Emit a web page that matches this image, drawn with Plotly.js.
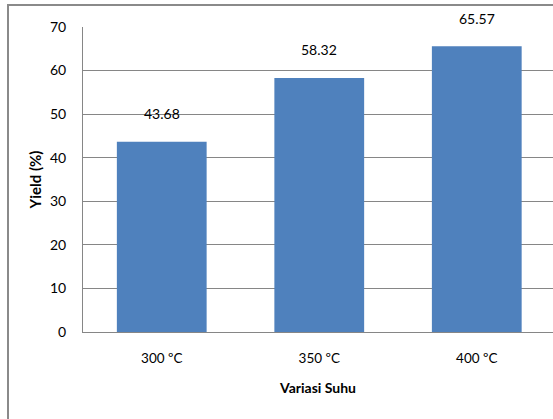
<!DOCTYPE html>
<html>
<head>
<meta charset="utf-8">
<script src="https://cdn.plot.ly/plotly-3.0.1.min.js"></script>
<style>
html,body{margin:0;padding:0;overflow:hidden;width:553px;height:419px;background:#fff;}
#frame{position:absolute;left:7px;top:4px;width:560px;height:430px;border-top:2px solid #8a8a8a;border-left:2px solid #8a8a8a;box-sizing:border-box;}
#chart{position:absolute;left:0;top:0;width:553px;height:419px;}
</style>
</head>
<body>
<div id="frame"></div>
<div id="chart"></div>
<script>
const categories = ["300 ºC", "350 ºC", "400 ºC"];
const yieldValues = [43.68, 58.32, 65.57];
const valueLabels = ["43.68", "58.32", "65.57"];
const yTicks = [0, 10, 20, 30, 40, 50, 60, 70];

const FONT = "Lato, 'Open Sans', sans-serif";

const trace = {
  type: "bar",
  x: categories,
  y: yieldValues,
  marker: {color: "#4F81BD", line: {width: 0}},
  hoverinfo: "none"
};

const annotations = categories.map((c, i) => ({
  x: c, y: yieldValues[i], xref: "x", yref: "y",
  text: valueLabels[i], showarrow: false, yshift: 28,
  font: {family: FONT, size: 14, color: "#000"}
}));

const layout = {
  width: 553, height: 419,
  margin: {l: 83, r: 0, t: 27, b: 87, pad: 0},
  paper_bgcolor: "rgba(0,0,0,0)",
  plot_bgcolor: "rgba(0,0,0,0)",
  bargap: 0.43,
  showlegend: false,
  font: {family: FONT, size: 13, color: "#000"},
  xaxis: {
    type: "category",
    range: [-0.5, 2.484],
    showgrid: false,
    showline: true, linecolor: "#868686", linewidth: 1,
    ticks: "", ticklabelstandoff: 14,
    tickfont: {family: FONT, size: 13.5, color: "#000"},
    title: {text: "<b>Variasi Suhu</b>", standoff: 17, font: {family: FONT, size: 14, color: "#000"}},
    fixedrange: true
  },
  yaxis: {
    range: [0, 70],
    tickvals: yTicks,
    ticktext: yTicks.map(String),
    showgrid: true, gridcolor: "#868686", gridwidth: 1,
    showline: true, linecolor: "#868686", linewidth: 1,
    zeroline: false,
    ticks: "", ticklabelstandoff: 13,
    tickfont: {family: FONT, size: 14, color: "#000"},
    title: {text: "<b>Yield (%)</b>", standoff: 4, font: {family: FONT, size: 15, color: "#000"}},
    fixedrange: true
  },
  annotations: annotations
};

Plotly.newPlot("chart", [trace], layout, {displayModeBar: false, staticPlot: true});
</script>
</body>
</html>
